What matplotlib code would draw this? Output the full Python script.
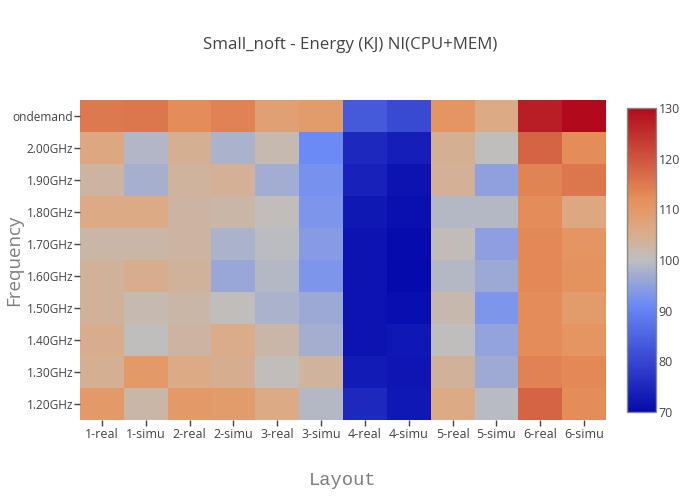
import numpy as np
import matplotlib
matplotlib.use("Agg")
import matplotlib.pyplot as plt
from matplotlib.colors import LinearSegmentedColormap, Normalize

# ── data ────────────────────────────────────────────────────────────────────
layouts = ["1-real", "1-simu", "2-real", "2-simu", "3-real", "3-simu",
           "4-real", "4-simu", "5-real", "5-simu", "6-real", "6-simu"]
freqs = ["1.20GHz", "1.30GHz", "1.40GHz", "1.50GHz", "1.60GHz",
         "1.70GHz", "1.80GHz", "1.90GHz", "2.00GHz", "ondemand"]

f_120 = [110.0, 102.4, 110.0, 109.5, 106.0, 99.0, 75.0, 72.3, 106.0, 99.3, 118.0, 112.5]
f_130 = [104.5, 110.0, 106.0, 104.8, 100.3, 103.5, 72.9, 72.0, 103.6, 96.5, 114.0, 113.0]
f_140 = [105.0, 100.0, 103.0, 105.5, 102.5, 97.3, 71.5, 72.2, 100.2, 95.5, 112.5, 111.0]
f_150 = [103.6, 101.5, 102.4, 100.3, 98.0, 96.3, 71.5, 70.8, 101.7, 93.0, 112.5, 109.6]
f_160 = [103.6, 105.0, 103.6, 95.8, 99.0, 93.2, 71.5, 70.0, 99.0, 96.3, 113.0, 111.3]
f_170 = [102.5, 102.5, 103.0, 97.9, 99.6, 94.0, 71.5, 70.3, 100.5, 94.7, 113.0, 111.0]
f_180 = [106.0, 106.0, 103.0, 102.5, 100.3, 93.2, 72.5, 71.0, 98.9, 98.9, 112.5, 106.5]
f_190 = [103.0, 97.5, 103.5, 104.0, 97.0, 92.4, 74.0, 71.5, 104.0, 94.9, 113.8, 115.6]
f_200 = [106.5, 98.6, 104.5, 97.9, 101.5, 91.3, 75.0, 73.3, 104.5, 100.0, 118.0, 112.5]
f_ond = [115.0, 115.5, 112.5, 114.0, 108.4, 109.6, 83.2, 80.7, 110.8, 106.0, 127.3, 130.0]

z = np.array([f_120, f_130, f_140, f_150, f_160, f_170, f_180, f_190, f_200, f_ond])

# plotly's classic RdBu scale (blue low, red high)
scale = [(0.0, (5, 10, 172)), (0.35, (106, 137, 247)), (0.5, (190, 190, 190)),
         (0.6, (220, 170, 132)), (0.7, (230, 145, 90)), (1.0, (178, 10, 28))]
cmap = LinearSegmentedColormap.from_list(
    "plotly_rdbu", [(p, tuple(c / 255 for c in rgb)) for p, rgb in scale])
norm = Normalize(vmin=70, vmax=130)

plt.rcParams["font.family"] = ["Open Sans", "DejaVu Sans"]
text_col = "#444444"

fig = plt.figure(figsize=(7, 5), dpi=100)
ax = fig.add_axes([80 / 700, 80 / 500, 526 / 700, 320 / 500])

mesh = ax.pcolormesh(np.arange(len(layouts) + 1) - 0.5,
                     np.arange(len(freqs) + 1) - 0.5,
                     z, cmap=cmap, norm=norm, shading="flat")

ax.set_xticks(np.arange(len(layouts)))
ax.set_xticklabels(layouts)
ax.set_yticks(np.arange(len(freqs)))
ax.set_yticklabels(freqs)
ax.tick_params(axis="both", colors=text_col, labelsize=9, length=4, width=1, pad=2)
ax.tick_params(axis="y", labelsize=8.6, pad=1)
for s in ax.spines.values():
    s.set_visible(False)

ax.set_xlabel("Layout", family="Liberation Mono", fontsize=13.5,
              color="#7f7f7f", labelpad=22)
ax.set_ylabel("Frequency", fontsize=13.5, color="#7f7f7f")
ax.yaxis.set_label_coords(-0.108, 0.5)

fig.text(0.5, 1 - 45 / 500, "Small_noft - Energy (KJ) NI(CPU+MEM)",
         ha="center", va="center", fontsize=12.2, color=text_col)

# colorbar
cax = fig.add_axes([627 / 700, 88 / 500, 29 / 700, 304 / 500])
cb = fig.colorbar(mesh, cax=cax, ticks=[70, 80, 90, 100, 110, 120, 130])
cb.outline.set_edgecolor("#888888")
cb.outline.set_linewidth(1)
cax.tick_params(length=0, labelsize=9, colors=text_col, pad=2)

fig.savefig("out.png", dpi=100)
